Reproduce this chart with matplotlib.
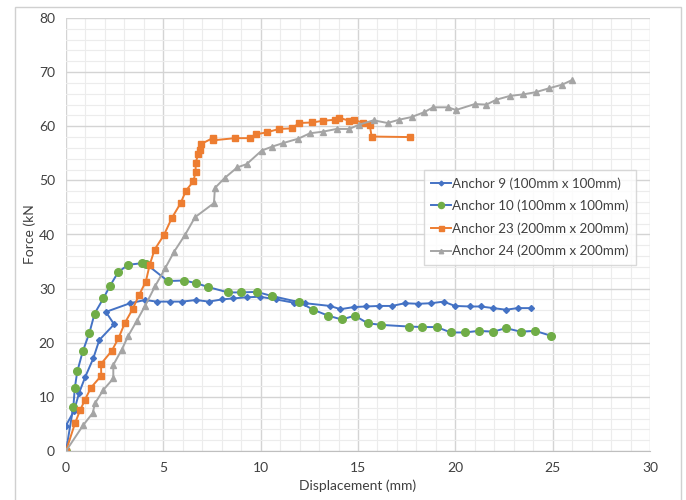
import matplotlib
matplotlib.use("Agg")
import matplotlib.pyplot as plt
from matplotlib.patches import Rectangle
from matplotlib.ticker import MultipleLocator

plt.rcParams['font.family'] = ['Lato', 'DejaVu Sans']

# Anchor 9 (100mm x 100mm)
a9_x = [0.0, 0.41, 0.68, 0.99, 1.4, 1.71, 2.47, 2.05, 3.29, 4.06, 4.66, 5.34, 5.97, 6.68, 7.34, 8.0, 8.6, 9.3, 9.96,
        10.8, 11.7, 12.3, 13.56, 14.1, 14.8, 15.4, 16.1, 16.75, 17.4, 18.1, 18.75, 19.4, 19.98, 20.75, 21.3, 21.95,
        22.6, 23.2, 23.9]
a9_y = [4.7, 7.4, 10.8, 13.7, 17.1, 20.5, 23.4, 25.7, 27.3, 27.9, 27.6, 27.6, 27.6, 27.9, 27.6, 28.0, 28.2, 28.4, 28.5,
        28.0, 27.4, 27.3, 26.8, 26.2, 26.6, 26.7, 26.8, 26.8, 27.3, 27.2, 27.3, 27.6, 26.8, 26.7, 26.7, 26.4,
        26.1, 26.4, 26.4]

# Anchor 10 (100mm x 100mm)
a10_x = [0.0, 0.38, 0.45, 0.58, 0.86, 1.2, 1.47, 1.92, 2.26, 2.69, 3.2, 3.89, 4.1, 5.23, 6.07, 6.7, 7.3, 8.32, 9.0,
         9.8, 10.56, 11.98, 12.7, 13.47, 14.16, 14.84, 15.5, 16.2, 17.6, 18.3, 19.04, 19.77, 20.5, 21.2, 21.95,
         22.6, 23.35, 24.1, 24.9]
a10_y = [0.0, 8.2, 11.6, 14.7, 18.4, 21.8, 25.4, 28.2, 30.5, 33.1, 34.4, 34.7, 34.6, 31.4, 31.5, 31.0, 30.3, 29.3, 29.3,
         29.4, 28.65, 27.5, 26.1, 25.0, 24.3, 25.0, 23.6, 23.3, 23.0, 22.9, 22.9, 21.9, 21.9, 22.2, 22.05,
         22.7, 22.05, 22.2, 21.3]

# Anchor 23 (200mm x 200mm)
a23_x = [0.0, 0.46, 0.72, 0.98, 1.28, 1.81, 1.8, 2.35, 2.69, 3.03, 3.42, 3.75, 4.1, 4.3, 4.55, 5.03, 5.43, 5.89,
         6.16, 6.54, 6.66, 6.66, 6.8, 6.88, 6.93, 7.53, 7.56, 8.68, 9.45, 9.76, 10.34, 10.94, 11.6, 11.98, 12.65,
         13.18, 13.8, 14.02, 14.55, 14.8, 15.27, 15.6, 15.7, 17.67]
a23_y = [0.0, 5.1, 7.5, 9.5, 11.7, 13.9, 16.1, 18.5, 20.8, 23.7, 26.2, 28.8, 31.3, 34.4, 37.2, 39.9, 43.0, 45.8,
         48.1, 49.8, 51.6, 53.3, 54.9, 55.6, 56.7, 57.8, 57.4, 57.8, 57.8, 58.5, 58.9, 59.5, 59.6, 60.6, 60.7,
         61.0, 61.2, 61.6, 61.0, 61.2, 60.6, 60.3, 58.1, 58.0]

# Anchor 24 (200mm x 200mm)
a24_x = [0.0, 0.89, 1.37, 1.49, 1.92, 2.43, 2.43, 2.86, 3.2, 3.63, 4.06, 4.57, 5.1, 5.55, 6.11, 6.63, 7.6, 7.65,
         8.17, 8.8, 9.28, 10.05, 10.56, 11.16, 11.93, 12.53, 13.2, 13.9, 14.55, 15.06, 15.8, 16.52, 17.1, 17.75,
         18.4, 18.86, 19.63, 20.03, 21.0, 21.6, 22.1, 22.8, 23.5, 24.14, 24.8, 25.5, 25.97]
a24_y = [0.0, 4.8, 7.0, 8.8, 11.3, 13.4, 15.9, 18.7, 21.3, 24.0, 26.8, 30.4, 33.8, 36.8, 39.9, 43.2, 45.8, 48.6,
         50.5, 52.4, 53.0, 55.5, 56.2, 56.9, 57.7, 58.7, 59.0, 59.5, 59.5, 60.3, 61.1, 60.6, 61.2, 61.7,
         62.6, 63.5, 63.5, 63.0, 64.1, 64.0, 64.9, 65.6, 65.9, 66.3, 67.0, 67.7, 68.5]

labels = ["Anchor 9 (100mm x 100mm)", "Anchor 10 (100mm x 100mm)",
          "Anchor 23 (200mm x 200mm)", "Anchor 24 (200mm x 200mm)"]

fig = plt.figure(figsize=(6.86, 5.0), dpi=100)
fig.patches.append(Rectangle((15 / 686, -0.05), 666 / 686, 1.05 - 7 / 500, transform=fig.transFigure,
                             fill=False, edgecolor='#d0d0d0', linewidth=1.0))
ax = fig.add_axes([66 / 686, 1 - 451 / 500, 584 / 686, 433 / 500])

ax.plot(a9_x, a9_y, color='#4472C4', marker='D', markersize=3, linewidth=1.4, label=labels[0])
ax.plot(a10_x, a10_y, color='#4472C4', marker='o', markersize=5.5, markerfacecolor='#70AD47',
        markeredgecolor='#70AD47', linewidth=1.4, label=labels[1])
ax.plot(a23_x, a23_y, color='#ED7D31', marker='s', markersize=4.5, linewidth=1.4, label=labels[2])
ax.plot(a24_x, a24_y, color='#A5A5A5', marker='^', markersize=4, linewidth=1.4, label=labels[3])

ax.set_xlim(0, 30)
ax.set_ylim(0, 80)
ax.xaxis.set_major_locator(MultipleLocator(5))
ax.xaxis.set_minor_locator(MultipleLocator(1))
ax.yaxis.set_major_locator(MultipleLocator(10))
ax.yaxis.set_minor_locator(MultipleLocator(2))
ax.grid(which='major', color='#d4d4d4', linewidth=1.0)
ax.grid(which='minor', color='#ececec', linewidth=0.8)
ax.set_axisbelow(True)
for s in ['top', 'right', 'left']:
    ax.spines[s].set_visible(False)
ax.spines['bottom'].set_color('#bfbfbf')
ax.tick_params(which='both', length=0, labelsize=10, colors='#404040', pad=8)

ax.set_xlabel("Displacement (mm)", fontsize=10, color='#404040', labelpad=4)
ax.set_ylabel("Force (kN", fontsize=10, color='#404040', labelpad=2)

leg = ax.legend(loc='upper left', bbox_to_anchor=(0.601, 0.665), fontsize=9.6, frameon=True,
                fancybox=False, edgecolor='#d0d0d0', handlelength=1.5, handletextpad=0.1,
                borderpad=0.55, labelspacing=0.75, markerscale=0.8, labelcolor='#404040')
leg.get_frame().set_linewidth(1.0)

fig.savefig("out.png", dpi=100)
